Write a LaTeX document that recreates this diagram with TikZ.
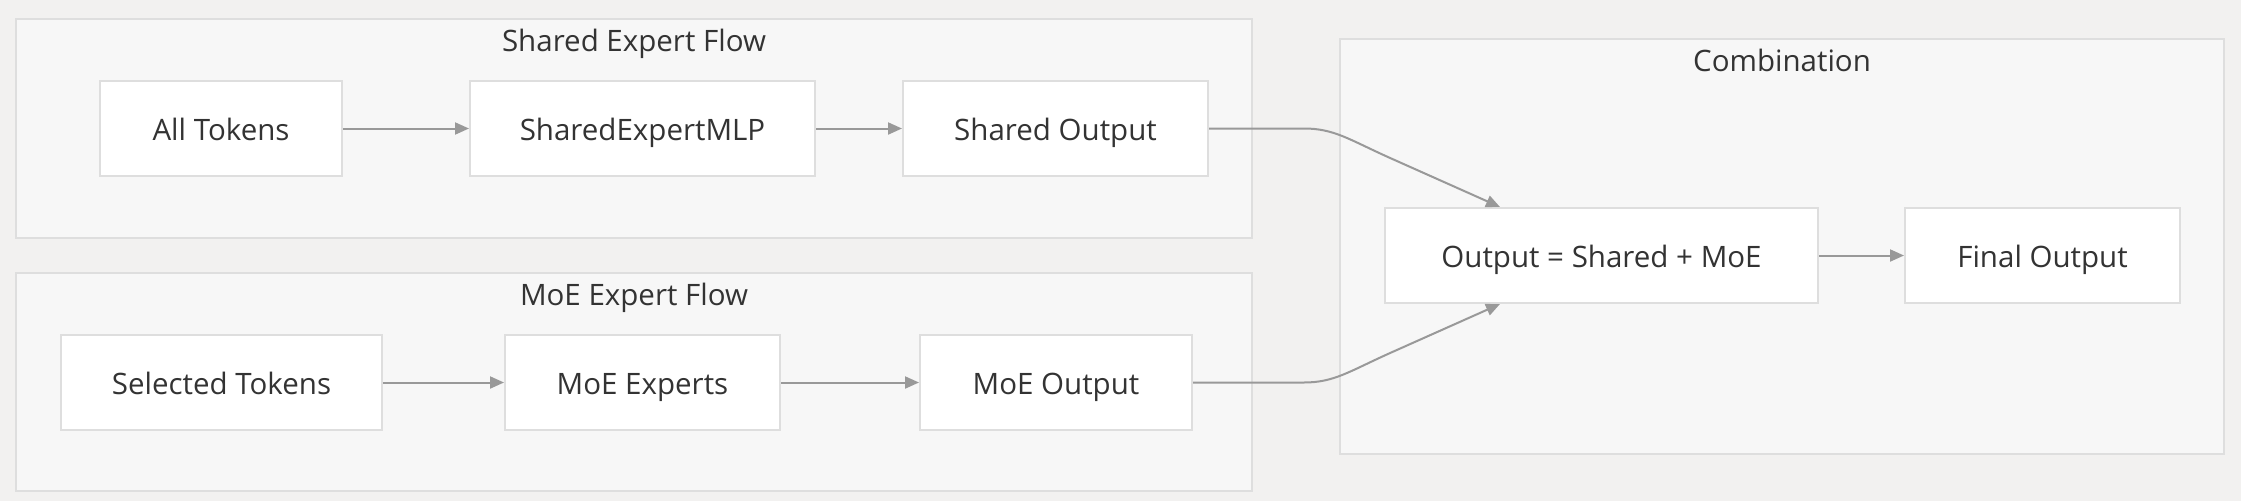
\documentclass[tikz,border=0pt]{standalone}
\usepackage{fontspec}
\setmainfont{Open Sans}
\usetikzlibrary{arrows.meta,calc}
\definecolor{bgc}{HTML}{F2F1F0}
\definecolor{clfill}{HTML}{F7F7F7}
\definecolor{clline}{HTML}{DEDEDE}
\definecolor{txt}{HTML}{333333}
\definecolor{edge}{HTML}{999999}
\tikzset{
  box/.style={draw=clline, line width=2pt, fill=white, minimum height=95pt, inner sep=0pt, text=txt, font=\fontsize{29.5}{33}\selectfont, text height=27pt, text depth=3pt},
  cluster/.style={draw=clline, line width=2pt, fill=clfill},
  ctitle/.style={text=txt, font=\fontsize{29.5}{33}\selectfont, inner sep=0pt, text height=27pt, text depth=3pt},
  link/.style={draw=edge, line width=2pt, -{Triangle[length=14pt,width=12pt]}},
}
\begin{document}
\begin{tikzpicture}[x=1pt,y=-1pt]
\fill[bgc] (0,0) rectangle (2241,501);
\useasboundingbox (0,0) rectangle (2241,501);
% clusters
\draw[cluster] (16,19) rectangle (1252,238);
\node[ctitle] (t1) at (634,39) {Shared Expert Flow};
\draw[cluster] (16,273) rectangle (1252,491);
\node[ctitle] (t2) at (634,293) {MoE Expert Flow};
\draw[cluster] (1340,39) rectangle (2224,454);
\node[ctitle] (t3) at (1782,59) {Combination};
% nodes
\node[box, minimum width=242pt] (at) at (221,128.5) {All Tokens};
\node[box, minimum width=345pt] (mlp) at (642.5,128.5) {SharedExpertMLP};
\node[box, minimum width=305pt] (so) at (1055.5,128.5) {Shared Output};
\node[box, minimum width=321pt] (sel) at (221.5,382.5) {Selected Tokens};
\node[box, minimum width=275pt] (moe) at (642.5,382.5) {MoE Experts};
\node[box, minimum width=272pt] (mo) at (1056,382.5) {MoE Output};
\node[box, minimum width=433pt] (comb) at (1601.5,255.5) {Output = Shared + MoE};
\node[box, minimum width=275pt] (fin) at (2042.5,255.5) {Final Output};
% edges
\draw[link] (at) -- (mlp);
\draw[link] (mlp) -- (so);
\draw[link] (sel) -- (moe);
\draw[link] (moe) -- (mo);
\draw[link] (comb) -- (fin);
\coordinate (ct) at ($(comb.north west)+(116,0)$);
\coordinate (cb) at ($(comb.south west)+(116,0)$);
\draw[link] (so.east) -- ++(95,0) .. controls +(30,0) and +(-40,-18) .. ++(85,29) -- (ct);
\draw[link] (mo.east) -- ++(111,0) .. controls +(30,0) and +(-40,18) .. ++(85,-29) -- (cb);
\end{tikzpicture}
\end{document}
